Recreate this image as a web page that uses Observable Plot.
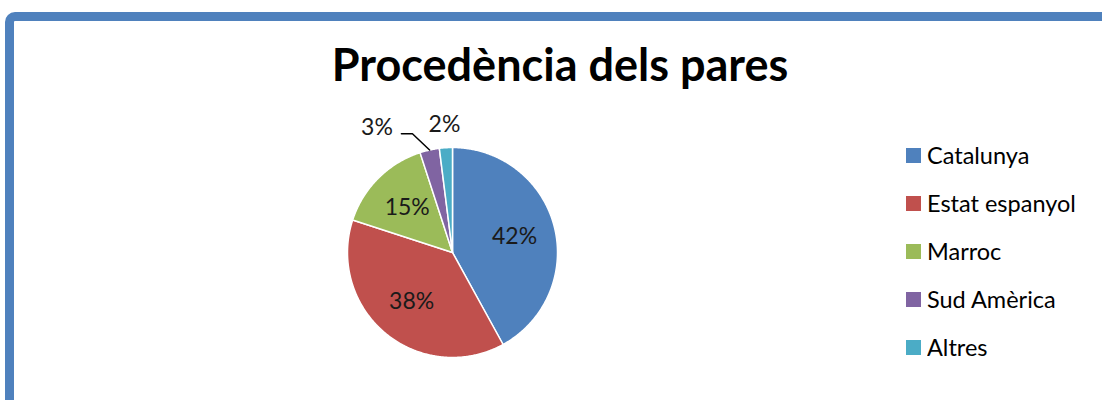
<!DOCTYPE html>
<html><head><meta charset="utf-8">
<script src="https://cdn.jsdelivr.net/npm/d3@7"></script>
<script src="https://cdn.jsdelivr.net/npm/@observablehq/plot@0.6"></script>
<style>
html,body{margin:0;padding:0;background:#fff;overflow:hidden;width:1102px;height:400px;}
#frame{position:absolute;left:5px;top:12px;width:1300px;height:600px;border:9px solid #4F81BD;border-radius:10px;box-sizing:border-box;}
#chart{position:absolute;left:0;top:0;}
#title{position:absolute;left:0;width:1120px;text-align:center;top:42px;font-family:Lato,sans-serif;font-weight:bold;font-size:45px;line-height:45px;color:#000;}
#legend{position:absolute;left:906px;top:131px;}
.lg-swatch{height:48px;padding-bottom:0 !important;}
.lg-swatch > svg{margin-right:6px !important;}
.lg-label{color:#000;}
</style>
</head><body>
<div id="frame"></div>
<div id="chart"></div>
<div id="title">Procedència dels pares</div>
<div id="legend"></div>
<script>
const categories = ["Catalunya", "Estat espanyol", "Marroc", "Sud Amèrica", "Altres"];
const values = [42, 38, 15, 3, 2];
const colors = ["#4F81BD", "#C0504D", "#9BBB59", "#8064A2", "#4BACC6"];

const arcs = d3.pie().sort(null).value(d => d)(values);
const total = d3.sum(values);

// slice polygons (unit radius, angle 0 at 12 o'clock, clockwise)
const slicePts = arcs.flatMap((a, i) => {
  const cat = categories[i];
  const n = Math.max(2, Math.ceil((a.endAngle - a.startAngle) / (Math.PI / 360)));
  const pts = [{cat, x: 0, y: 0}];
  for (let k = 0; k <= n; k++) {
    const t = a.startAngle + (a.endAngle - a.startAngle) * k / n;
    pts.push({cat, x: Math.sin(t), y: Math.cos(t)});
  }
  pts.push({cat, x: 0, y: 0});
  return pts;
});

// labels
const labels = arcs.map((a, i) => {
  const mid = (a.startAngle + a.endAngle) / 2;
  const pct = Math.round(values[i] / total * 100);
  const inside = pct >= 10;
  const r = inside ? 0.61 : 1.22;
  return {cat: categories[i], text: pct + "%", inside, mid, x: Math.sin(mid) * r, y: Math.cos(mid) * r, moved: false};
});
// collision avoidance for outside labels (process from the one nearest 12 o'clock)
const outside = labels.filter(d => !d.inside).sort((a, b) => b.mid - a.mid);
for (let k = 1; k < outside.length; k++) {
  const prev = outside[k - 1], cur = outside[k];
  if (Math.abs(cur.x - prev.x) < 0.45 && Math.abs(cur.y - prev.y) < 0.25) {
    cur.x = prev.x - 0.643;
    cur.y = prev.y - 0.03;
    cur.moved = true;
  }
}
const leaders = labels.filter(d => d.moved).flatMap(d => [
  {cat: d.cat, x: d.x + 0.233, y: d.y - 0.057},
  {cat: d.cat, x: d.x + 0.338, y: d.y - 0.057},
  {cat: d.cat, x: Math.sin(d.mid) * 1.0, y: Math.cos(d.mid) * 1.0}
]);

const chart = Plot.plot({
  width: 1102,
  height: 400,
  margin: 0,
  style: {background: "transparent", fontFamily: "Lato, sans-serif", overflow: "visible"},
  x: {domain: [-1, 1], range: [347, 557], axis: null},
  y: {domain: [-1, 1], range: [357, 147], axis: null},
  color: {domain: categories, range: colors},
  marks: [
    Plot.line(slicePts, {x: "x", y: "y", z: "cat", fill: "cat", stroke: "white", strokeWidth: 1.5, curve: "linear"}),
    Plot.line(leaders, {x: "x", y: "y", z: "cat", stroke: "black", strokeWidth: 1.5, curve: "linear"}),
    Plot.text(labels, {x: "x", y: "y", text: "text", fontSize: 23, fontFamily: "Lato, sans-serif", fill: "#1a1a1a"})
  ]
});
document.getElementById("chart").appendChild(chart);

const legend = Plot.legend({
  color: {domain: categories, range: colors},
  legend: "swatches",
  columns: 1,
  swatchSize: 15,
  className: "lg",
  style: {fontFamily: "Lato, sans-serif", fontSize: "23.5px", margin: "0"}
});
document.getElementById("legend").appendChild(legend);
</script>
</body></html>
